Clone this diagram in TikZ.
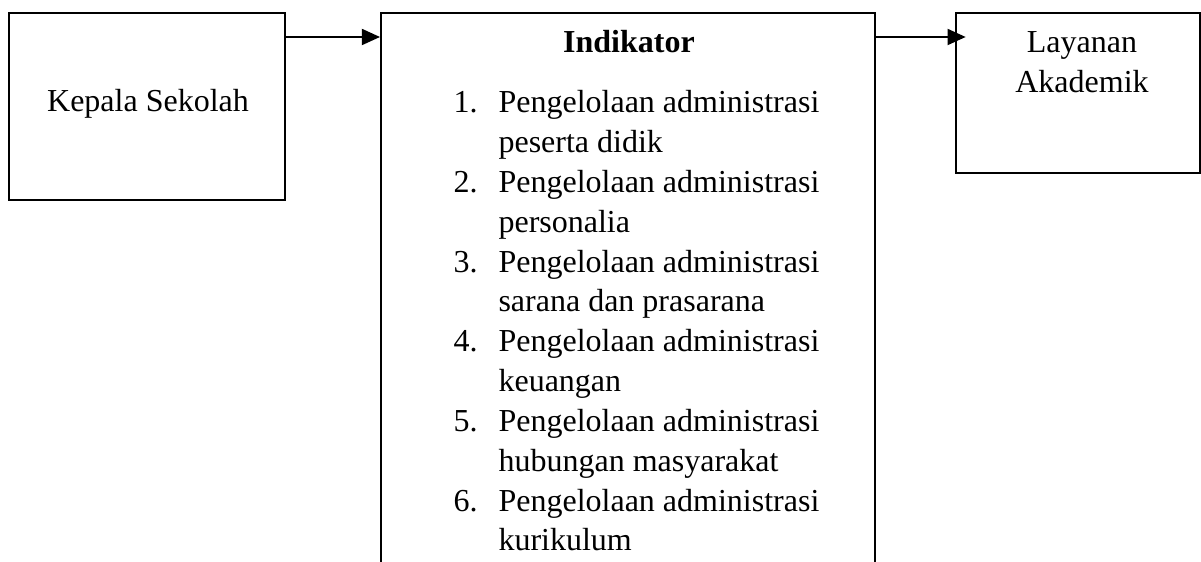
\documentclass[tikz,border=0pt]{standalone}
\usepackage{fontspec}
\setmainfont{Liberation Serif}
\usetikzlibrary{arrows.meta}
\begin{document}
\begin{tikzpicture}[x=0.375pt,y=-0.375pt,
  box/.style={draw,line width=0.75pt,inner sep=0pt},
  txt/.style={inner sep=0pt,font=\fontsize{12}{14.6}\selectfont},
  arr/.style={line width=0.75pt,-{Triangle[length=6.8pt,width=6pt]}}]
\clip (0,0) rectangle (1201,562);
\fill[white] (0,0) rectangle (1201,562);
% boxes
\node[box,minimum width=103.5pt,minimum height=70.1pt] (kepala) at (147,106.5) {};
\node[box,minimum width=185.25pt,minimum height=225pt] (ind) at (628,313) {};
\node[box,minimum width=91.5pt,minimum height=60pt] (layanan) at (1078,93) {};
% texts
\node[txt,anchor=base] (kt) at (148,112) {Kepala Sekolah};
\node[txt,anchor=base] (lt1) at (1082,53) {Layanan};
\node[txt,anchor=base] (lt2) at (1082,93) {Akademik};
\node[txt,anchor=base,font=\fontsize{12}{14.6}\selectfont\bfseries] (head) at (629,53) {Indikator};
\foreach \n/\a/\b [count=\i from 0] in {1/Pengelolaan administrasi/peserta didik,
  2/Pengelolaan administrasi/personalia,
  3/Pengelolaan administrasi/sarana dan prasarana,
  4/Pengelolaan administrasi/keuangan,
  5/Pengelolaan administrasi/hubungan masyarakat,
  6/Pengelolaan administrasi/kurikulum}{
  \node[txt,anchor=base west] (num\n) at (453,{113+79.6*\i}) {\n.};
  \node[txt,anchor=base west] (ia\n) at (498,{113+79.6*\i}) {\a};
  \node[txt,anchor=base west] (ib\n) at (498,{152.8+79.6*\i}) {\b};
}
% arrows
\coordinate (y37) at (0,37);
\draw[arr] (kepala.east |- y37) -- (ind.west |- y37);
\draw[arr] (ind.east |- y37) -- ([xshift=4pt]layanan.west |- y37);
\end{tikzpicture}
\end{document}
